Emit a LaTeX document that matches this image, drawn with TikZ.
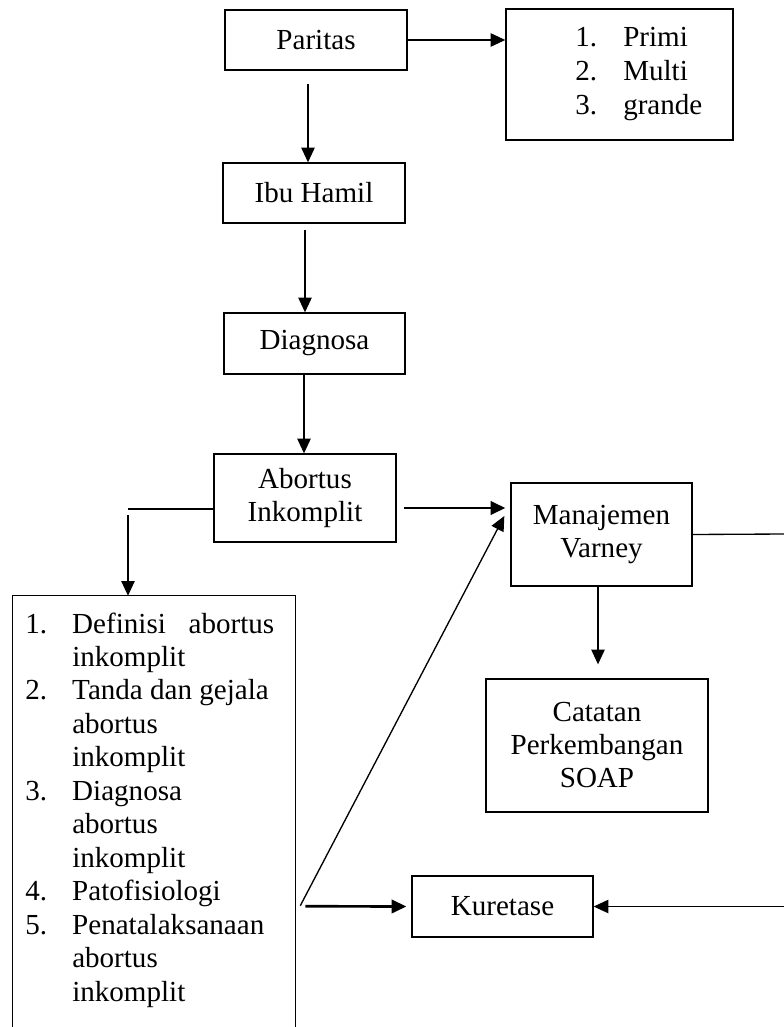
\documentclass[tikz,border=0pt]{standalone}
\usepackage{fontspec}
\setmainfont{Liberation Serif}
\usetikzlibrary{arrows.meta,calc}
\begin{document}
\begin{tikzpicture}[x=0.75pt,y=-0.75pt,
  box/.style={draw,line width=1pt,inner sep=0pt,align=center,font=\fontsize{21.8}{24.75}\selectfont},
  arr/.style={line width=1pt,-{Triangle[length=11pt,width=10pt]}},
  tarr/.style={line width=2pt,-{Triangle[length=11pt,width=10pt]}},
  ln/.style={line width=1pt},
  lsttext/.style={anchor=base west,inner sep=0pt}]
\useasboundingbox (0,0) rectangle (784,1027);
% boxes
\node[box,minimum width=182*0.75pt,minimum height=60*0.75pt] (par) at (316,40) {Paritas};
\node[box,minimum width=227*0.75pt,minimum height=131*0.75pt] (pri) at (619.5,74.5) {};
\node[lsttext,font=\fontsize{21.8}{25.4}\selectfont] (pritxt) at (575,47)
  {\begin{tabular}[t]{@{}l@{}l@{}}\makebox[36pt][l]{1.}&Primi\\\makebox[36pt][l]{2.}&Multi\\\makebox[36pt][l]{3.}&grande\end{tabular}};
\node[box,minimum width=182*0.75pt,minimum height=60*0.75pt] (ibu) at (314,193) {Ibu Hamil};
\node[box,minimum width=181*0.75pt,minimum height=61*0.75pt] (dia) at (314.5,343.5) {Diagnosa};
\node[box,minimum width=182*0.75pt,minimum height=88*0.75pt] (ab) at (305,498) {Abortus\\Inkomplit};
\node[box,minimum width=181*0.75pt,minimum height=103*0.75pt] (mv) at (601.5,534.5) {Manajemen\\Varney};
\node[box,minimum width=222*0.75pt,minimum height=133*0.75pt] (cat) at (597,745.5) {Catatan\\Perkembangan\\SOAP};
\node[box,minimum width=181*0.75pt,minimum height=61*0.75pt] (ku) at (502.5,906.5) {Kuretase};
% list box (open at the bottom)
\node[inner sep=0pt,minimum width=282*0.75pt,minimum height=444*0.75pt] (lst) at (154,818) {};
\draw[ln] (lst.south west) -- (lst.north west) -- (lst.north east) -- (lst.south east);
\node[lsttext,font=\fontsize{21.8}{25.1}\selectfont] (lsttxt) at (25,633)
  {\begin{tabular}[t]{@{}l@{}l@{}}
   \makebox[35.25pt][l]{1.}&\makebox[151.5pt][s]{Definisi abortus}\\
   &inkomplit\\
   \makebox[35.25pt][l]{2.}&Tanda dan gejala\\
   &abortus\\
   &inkomplit\\
   \makebox[35.25pt][l]{3.}&Diagnosa\\
   &abortus\\
   &inkomplit\\
   \makebox[35.25pt][l]{4.}&Patofisiologi\\
   \makebox[35.25pt][l]{5.}&Penatalaksanaan\\
   &abortus\\
   &inkomplit
  \end{tabular}};
% coordinates
\coordinate (c1) at (128,509);
\coordinate (edge1) at (784,534);
\coordinate (edge2) at (784,906.5);
% connectors
\draw[arr] (par.east) -- (par.east -| pri.west);
\draw[arr] ($(par.south)+(-8,13)$) -- ($(ibu.north)+(-6,0)$);
\draw[arr] ($(ibu.south)+(-9,6)$) -- ($(dia.north)+(-9.5,0)$);
\draw[arr] ($(dia.south)+(-10.5,0)$) -- ($(ab.north)+(-1,0)$);
\draw[ln] (ab.west |- c1) -- (c1);
\draw[arr] ($(c1)+(0,6)$) -- (c1 |- lst.north);
\draw[tarr] ($(ab.east)+(7,10)$) -- ($(mv.west)+(-5,-26.5)$);
\draw[arr] ($(lst.north east)+(5,310)$) -- ($(mv.west)+(-6,-18.5)$);
\draw[tarr] ($(lst.north east)+(10,310.5)$) -- ($(ku.west)+(-5,0)$);
\draw[ln] (mv.east) -- (edge1);
\draw[arr] (edge2) -- (ku.east);
\draw[arr] ($(mv.south)+(-3.5,0)$) -- ($(cat.north)+(1,-14)$);
\end{tikzpicture}
\end{document}
